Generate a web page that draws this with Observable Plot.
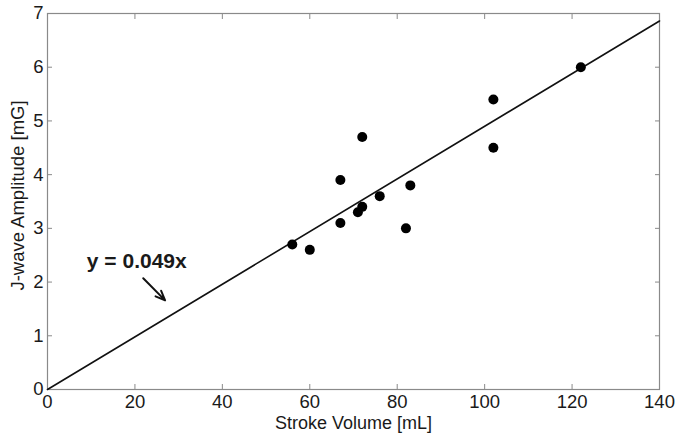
<!DOCTYPE html>
<html>
<head>
<meta charset="utf-8">
<script src="https://cdn.jsdelivr.net/npm/d3@7"></script>
<script src="https://cdn.jsdelivr.net/npm/@observablehq/plot@0.6"></script>
<style>
  html, body { margin: 0; padding: 0; background: #fff; }
  svg { display: block; }
</style>
</head>
<body>
<div id="chart"></div>
<script>
const strokeVolume = [56, 60, 67, 67, 71, 72, 72, 76, 82, 83, 102, 102, 122];
const jAmplitude   = [2.7, 2.6, 3.9, 3.1, 3.3, 3.4, 4.7, 3.6, 3.0, 3.8, 5.4, 4.5, 6.0];
const slope = 0.049;
const fitX = [0, 140];
const xTicks = [0, 20, 40, 60, 80, 100, 120, 140];
const yTicks = [0, 1, 2, 3, 4, 5, 6, 7];
const xLabel = "Stroke Volume [mL]";
const yLabel = "J-wave Amplitude [mG]";
const fitLabel = "y = 0.049x";
const fitLabelPos = {x: 9, y: 2.38};
const arrowPos = {x1: 21.9, y1: 2.07, x2: 26.9, y2: 1.66};

const points = strokeVolume.map((v, i) => ({x: v, y: jAmplitude[i]}));
const fit = fitX.map(x => ({x, y: slope * x}));

const font = "'Liberation Sans', Arial, Helvetica, sans-serif";
const axisColor = "#8a8a8a";
const textColor = "#1a1a1a";
const fs = 18.5;
const fmt = d3.format("d");

const chart = Plot.plot({
  width: 676,
  height: 436,
  marginLeft: 47,
  marginRight: 17,
  marginTop: 13,
  marginBottom: 47,
  style: {fontFamily: font, fontSize: fs + "px", color: textColor, background: "#fff"},
  x: {domain: [0, 140], ticks: xTicks},
  y: {domain: [0, 7], ticks: yTicks},
  marks: [
    Plot.frame({stroke: axisColor, strokeWidth: 1.2}),
    Plot.axisX(xTicks, {anchor: "bottom", tickSize: -5, tickPadding: 10, stroke: axisColor, fill: textColor, fontSize: fs, tickFormat: fmt, label: null}),
    Plot.axisX(xTicks, {anchor: "top", tickSize: -5, stroke: axisColor, fill: "none", label: null}),
    Plot.axisY(yTicks, {anchor: "left", tickSize: -5, tickPadding: 9, stroke: axisColor, fill: textColor, fontSize: fs, tickFormat: fmt, label: null}),
    Plot.axisY(yTicks, {anchor: "right", tickSize: -5, stroke: axisColor, fill: "none", label: null}),
    Plot.line(fit, {x: "x", y: "y", stroke: "#111", strokeWidth: 1.6}),
    Plot.dot(points, {x: "x", y: "y", r: 5, fill: "#000", stroke: "none"}),
    Plot.text([fitLabel], {x: fitLabelPos.x, y: fitLabelPos.y, text: d => d, textAnchor: "start", lineAnchor: "middle", fontSize: 21, fontWeight: "bold", fill: textColor}),
    Plot.arrow([arrowPos], {x1: "x1", y1: "y1", x2: "x2", y2: "y2", stroke: "#111", strokeWidth: 2, headLength: 10, headAngle: 45}),
    Plot.text([xLabel], {frameAnchor: "bottom", dy: 39, lineAnchor: "bottom", textAnchor: "middle", text: d => d, fontSize: 18, fill: textColor}),
    Plot.text([yLabel], {frameAnchor: "left", dx: -24, dy: -6, rotate: -90, textAnchor: "middle", lineAnchor: "bottom", text: d => d, fontSize: fs, fill: textColor})
  ]
});
document.getElementById("chart").appendChild(chart);
</script>
</body>
</html>
